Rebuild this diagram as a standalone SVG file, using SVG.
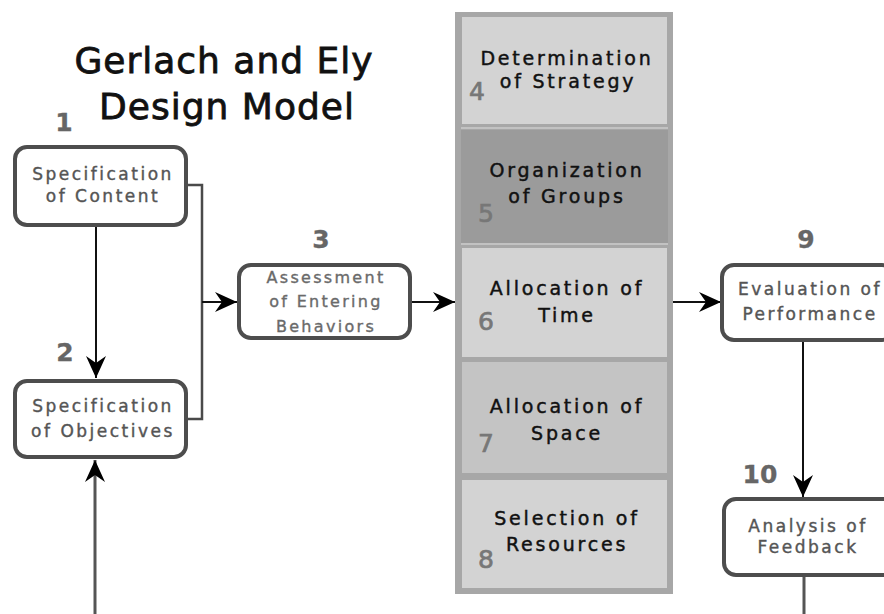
<svg xmlns="http://www.w3.org/2000/svg" width="884" height="614" viewBox="0 0 884 614">
<style>
text{font-family:"DejaVu Sans",Verdana,sans-serif}
.title{font-size:36px;fill:#111;stroke:#111;stroke-width:0.8px;letter-spacing:1px;text-anchor:middle}
.box{fill:#fff;stroke:#4d4d4d;stroke-width:4}
.lbl{font-size:17px;fill:#555;stroke:#555;stroke-width:0.4px;letter-spacing:2.5px;text-anchor:middle}
.lbl3{font-size:16px;fill:#6a6a6a;stroke:#6a6a6a;stroke-width:0.35px;letter-spacing:2.3px;text-anchor:middle}
.num{font-size:25px;font-weight:bold;fill:#666;stroke:#666;stroke-width:0.3px;text-anchor:middle}
.cell{font-size:19px;fill:#111;stroke:#111;stroke-width:0.45px;letter-spacing:2.8px;text-anchor:middle}
.cnum{font-size:25px;fill:#777;stroke:#777;stroke-width:0.7px}
.ln{fill:none;stroke:#111;stroke-width:2}
.ln2{fill:none;stroke:#4a4a4a;stroke-width:2.5}
.ln3{fill:none;stroke:#555;stroke-width:3}
</style>
<defs>
<marker id="ah" viewBox="0 0 22 20" refX="22" refY="10" markerWidth="22" markerHeight="20" markerUnits="userSpaceOnUse" orient="auto">
<path d="M0,0 L22,10 L0,20 L7,10 Z" fill="#000"/>
</marker>
</defs>
<rect width="884" height="614" fill="#fff"/>
<g id="title">
<text class="title" x="224" y="73">Gerlach and Ely</text>
<text class="title" x="227" y="119">Design Model</text>
</g>
<g id="connectors">
<path class="ln" d="M96,227 V378" marker-end="url(#ah)"/>
<path class="ln2" d="M188,185 H202 V419 H188"/>
<path class="ln" d="M202,302 H237" marker-end="url(#ah)"/>
<path class="ln" d="M412,302 H455" marker-end="url(#ah)"/>
<path class="ln" d="M673,302 H721" marker-end="url(#ah)"/>
<path class="ln" d="M803,342 V497" marker-end="url(#ah)"/>
<path class="ln3" d="M804,577 V614"/>
<path class="ln3" d="M95,614 V460" marker-end="url(#ah)"/>
</g>
<g id="n1">
<rect class="box" x="15" y="147" width="171" height="78" rx="12"/>
<text class="num" x="64" y="131">1</text>
<text class="lbl" x="103" y="180">Specification</text>
<text class="lbl" x="103" y="202">of Content</text>
</g>
<g id="n2">
<rect class="box" x="15" y="381" width="171" height="76" rx="12"/>
<text class="num" x="65" y="361">2</text>
<text class="lbl" x="103" y="412">Specification</text>
<text class="lbl" x="103" y="437">of Objectives</text>
</g>
<g id="n3">
<rect class="box" x="239" y="265" width="171" height="73" rx="12"/>
<text class="num" x="321" y="248">3</text>
<text class="lbl3" x="326" y="283">Assessment</text>
<text class="lbl3" x="326" y="307">of Entering</text>
<text class="lbl3" x="326" y="332">Behaviors</text>
</g>
<g id="column">
<rect x="455" y="12" width="218" height="582" fill="#a7a7a7"/>
<rect x="461" y="127" width="207" height="2" fill="#c2c2c2"/>
<rect x="461" y="243" width="207" height="2" fill="#c2c2c2"/>
</g>
<g id="n4">
<rect x="462" y="17" width="205" height="107" fill="#d3d3d3"/>
<text class="cell" x="567" y="65">Determination</text>
<text class="cell" x="568" y="88">of Strategy</text>
<text class="cnum" x="469" y="100">4</text>
</g>
<g id="n5">
<rect x="461" y="130" width="207" height="113" fill="#9b9b9b"/>
<text class="cell" x="567" y="177">Organization</text>
<text class="cell" x="567" y="203">of Groups</text>
<text class="cnum" x="478" y="222">5</text>
</g>
<g id="n6">
<rect x="462" y="248" width="205" height="109" fill="#d3d3d3"/>
<text class="cell" x="567" y="295">Allocation of</text>
<text class="cell" x="567" y="322">Time</text>
<text class="cnum" x="478" y="330">6</text>
</g>
<g id="n7">
<rect x="462" y="362" width="205" height="111" fill="#c4c4c4"/>
<text class="cell" x="567" y="413">Allocation of</text>
<text class="cell" x="567" y="440">Space</text>
<text class="cnum" x="478" y="452">7</text>
</g>
<g id="n8">
<rect x="462" y="480" width="205" height="108" fill="#d3d3d3"/>
<text class="cell" x="567" y="525">Selection of</text>
<text class="cell" x="567" y="551">Resources</text>
<text class="cnum" x="478" y="568">8</text>
</g>
<g id="n9">
<rect class="box" x="722" y="265" width="172" height="75" rx="12"/>
<text class="num" x="806" y="248">9</text>
<text class="lbl" x="810" y="295">Evaluation of</text>
<text class="lbl" x="810" y="320">Performance</text>
</g>
<g id="n10">
<rect class="box" x="724" y="499" width="172" height="76" rx="12"/>
<text class="num" x="760" y="483">10</text>
<text class="lbl" x="808" y="532">Analysis of</text>
<text class="lbl" x="808" y="553">Feedback</text>
</g>
</svg>
